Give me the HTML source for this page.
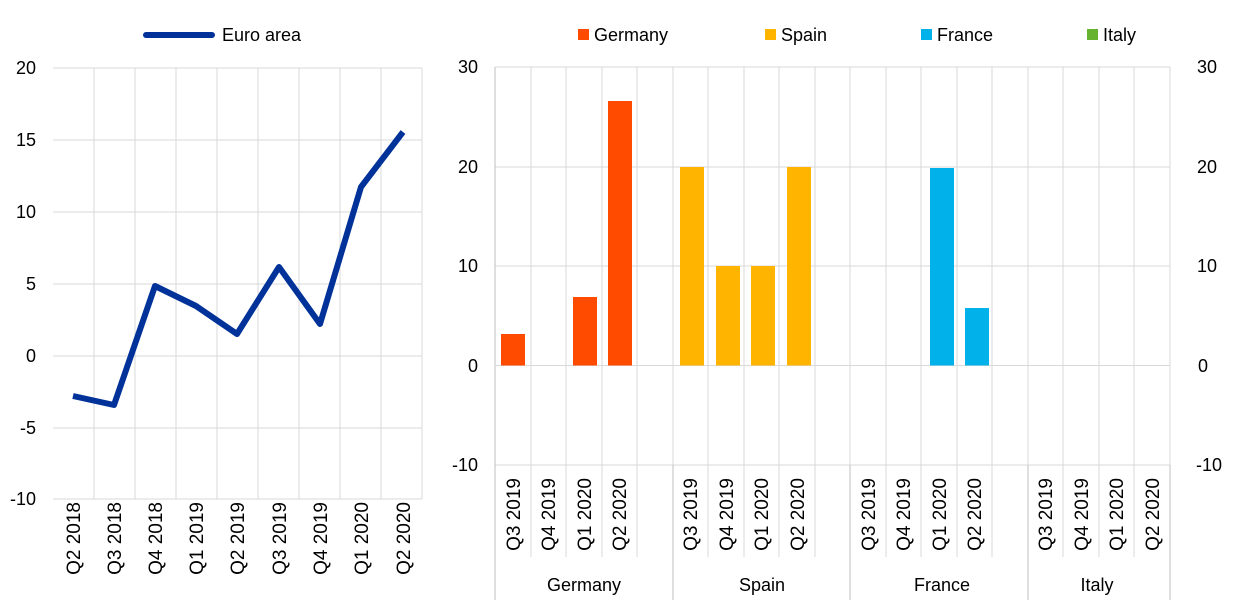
<!DOCTYPE html>
<html><head><meta charset="utf-8"><style>body{margin:0;background:#fff}svg{display:block;font-family:"Liberation Sans",Arial,sans-serif}</style></head><body>
<svg width="1240" height="603" viewBox="0 0 1240 603">
<g stroke="#d9d9d9" stroke-width="1">
<line x1="53" y1="68" x2="422" y2="68"/><line x1="53" y1="140" x2="422" y2="140"/><line x1="53" y1="212" x2="422" y2="212"/><line x1="53" y1="284" x2="422" y2="284"/><line x1="53" y1="356" x2="422" y2="356"/><line x1="53" y1="428" x2="422" y2="428"/><line x1="53" y1="499" x2="422" y2="499"/>
<line x1="94" y1="68" x2="94" y2="499"/><line x1="135" y1="68" x2="135" y2="499"/><line x1="176" y1="68" x2="176" y2="499"/><line x1="217" y1="68" x2="217" y2="499"/><line x1="258" y1="68" x2="258" y2="499"/><line x1="299" y1="68" x2="299" y2="499"/><line x1="340" y1="68" x2="340" y2="499"/><line x1="381" y1="68" x2="381" y2="499"/><line x1="422" y1="68" x2="422" y2="499"/>
</g>
<g font-size="18" fill="#000" text-anchor="end">
<text x="36" y="74">20</text><text x="36" y="146">15</text><text x="36" y="218">10</text><text x="36" y="290">5</text><text x="36" y="362">0</text><text x="36" y="434">-5</text><text x="36" y="505">-10</text>
</g>
<polyline fill="none" stroke="#003299" stroke-width="6" stroke-linejoin="round" points="73,396 114,405 155,286 196,306 237,334 279,267 320,324 361,187 403,132"/>
<g font-size="19" text-anchor="end">
<text transform="translate(80,502) rotate(-90)">Q2 2018</text><text transform="translate(121,502) rotate(-90)">Q3 2018</text><text transform="translate(162,502) rotate(-90)">Q4 2018</text><text transform="translate(203,502) rotate(-90)">Q1 2019</text><text transform="translate(244,502) rotate(-90)">Q2 2019</text><text transform="translate(286,502) rotate(-90)">Q3 2019</text><text transform="translate(327,502) rotate(-90)">Q4 2019</text><text transform="translate(368,502) rotate(-90)">Q1 2020</text><text transform="translate(410,502) rotate(-90)">Q2 2020</text>
</g>
<line x1="146" y1="35" x2="212" y2="35" stroke="#003299" stroke-width="6" stroke-linecap="round"/>
<text x="222" y="41" font-size="18">Euro area</text>

<g stroke="#d9d9d9" stroke-width="1">
<line x1="495" y1="67" x2="1170" y2="67"/><line x1="495" y1="167" x2="1170" y2="167"/><line x1="495" y1="266" x2="1170" y2="266"/><line x1="495" y1="465" x2="1170" y2="465"/>
<line x1="531" y1="67" x2="531" y2="557"/><line x1="566" y1="67" x2="566" y2="557"/><line x1="602" y1="67" x2="602" y2="557"/><line x1="637" y1="67" x2="637" y2="557"/><line x1="673" y1="67" x2="673" y2="465"/><line x1="708" y1="67" x2="708" y2="557"/><line x1="744" y1="67" x2="744" y2="557"/><line x1="779" y1="67" x2="779" y2="557"/><line x1="815" y1="67" x2="815" y2="557"/><line x1="850" y1="67" x2="850" y2="465"/><line x1="886" y1="67" x2="886" y2="557"/><line x1="921" y1="67" x2="921" y2="557"/><line x1="957" y1="67" x2="957" y2="557"/><line x1="992" y1="67" x2="992" y2="557"/><line x1="1028" y1="67" x2="1028" y2="465"/><line x1="1063" y1="67" x2="1063" y2="557"/><line x1="1099" y1="67" x2="1099" y2="557"/><line x1="1134" y1="67" x2="1134" y2="557"/><line x1="1170" y1="67" x2="1170" y2="465"/>
</g>
<g stroke="#bfbfbf"><line x1="495" y1="67" x2="495" y2="600"/><line x1="673" y1="465" x2="673" y2="600"/><line x1="850" y1="465" x2="850" y2="600"/><line x1="1028" y1="465" x2="1028" y2="600"/><line x1="1170" y1="465" x2="1170" y2="600"/></g>
<line x1="495" y1="365.5" x2="1170" y2="365.5" stroke="#d9d9d9"/>
<g fill="#FF4B00"><rect x="501" y="334" width="24" height="31.5"/><rect x="573" y="297" width="24" height="68.5"/><rect x="608" y="101" width="24" height="264.5"/></g>
<g fill="#FFB400"><rect x="680" y="167" width="24" height="198.5"/><rect x="716" y="266" width="24" height="99.5"/><rect x="751" y="266" width="24" height="99.5"/><rect x="787" y="167" width="24" height="198.5"/></g>
<g fill="#00B1EA"><rect x="930" y="168" width="24" height="197.5"/><rect x="965" y="308" width="24" height="57.5"/></g>
<g font-size="18" text-anchor="end"><text x="478" y="73">30</text><text x="478" y="173">20</text><text x="478" y="272">10</text><text x="478" y="372">0</text><text x="478" y="471">-10</text></g>
<g font-size="18" text-anchor="end"><text x="1217" y="73">30</text><text x="1217" y="173">20</text><text x="1217" y="272">10</text><text x="1208" y="372">0</text><text x="1222" y="471">-10</text></g>
<g font-size="19" text-anchor="end">
<text transform="translate(520,478) rotate(-90)">Q3 2019</text><text transform="translate(555,478) rotate(-90)">Q4 2019</text><text transform="translate(591,478) rotate(-90)">Q1 2020</text><text transform="translate(626,478) rotate(-90)">Q2 2020</text>
<text transform="translate(697,478) rotate(-90)">Q3 2019</text><text transform="translate(733,478) rotate(-90)">Q4 2019</text><text transform="translate(768,478) rotate(-90)">Q1 2020</text><text transform="translate(804,478) rotate(-90)">Q2 2020</text>
<text transform="translate(875,478) rotate(-90)">Q3 2019</text><text transform="translate(910,478) rotate(-90)">Q4 2019</text><text transform="translate(946,478) rotate(-90)">Q1 2020</text><text transform="translate(981,478) rotate(-90)">Q2 2020</text>
<text transform="translate(1052,478) rotate(-90)">Q3 2019</text><text transform="translate(1088,478) rotate(-90)">Q4 2019</text><text transform="translate(1123,478) rotate(-90)">Q1 2020</text><text transform="translate(1159,478) rotate(-90)">Q2 2020</text>
</g>
<g font-size="18" text-anchor="middle"><text x="584" y="591">Germany</text><text x="762" y="591">Spain</text><text x="942" y="591">France</text><text x="1097" y="591">Italy</text></g>
<rect x="578" y="29" width="11" height="11" fill="#FF4B00"/><text x="594" y="41" font-size="18">Germany</text>
<rect x="765" y="29" width="11" height="11" fill="#FFB400"/><text x="781" y="41" font-size="18">Spain</text>
<rect x="921" y="29" width="11" height="11" fill="#00B1EA"/><text x="937" y="41" font-size="18">France</text>
<rect x="1087" y="29" width="11" height="11" fill="#65B32E"/><text x="1103" y="41" font-size="18">Italy</text>
</svg>
</body></html>
